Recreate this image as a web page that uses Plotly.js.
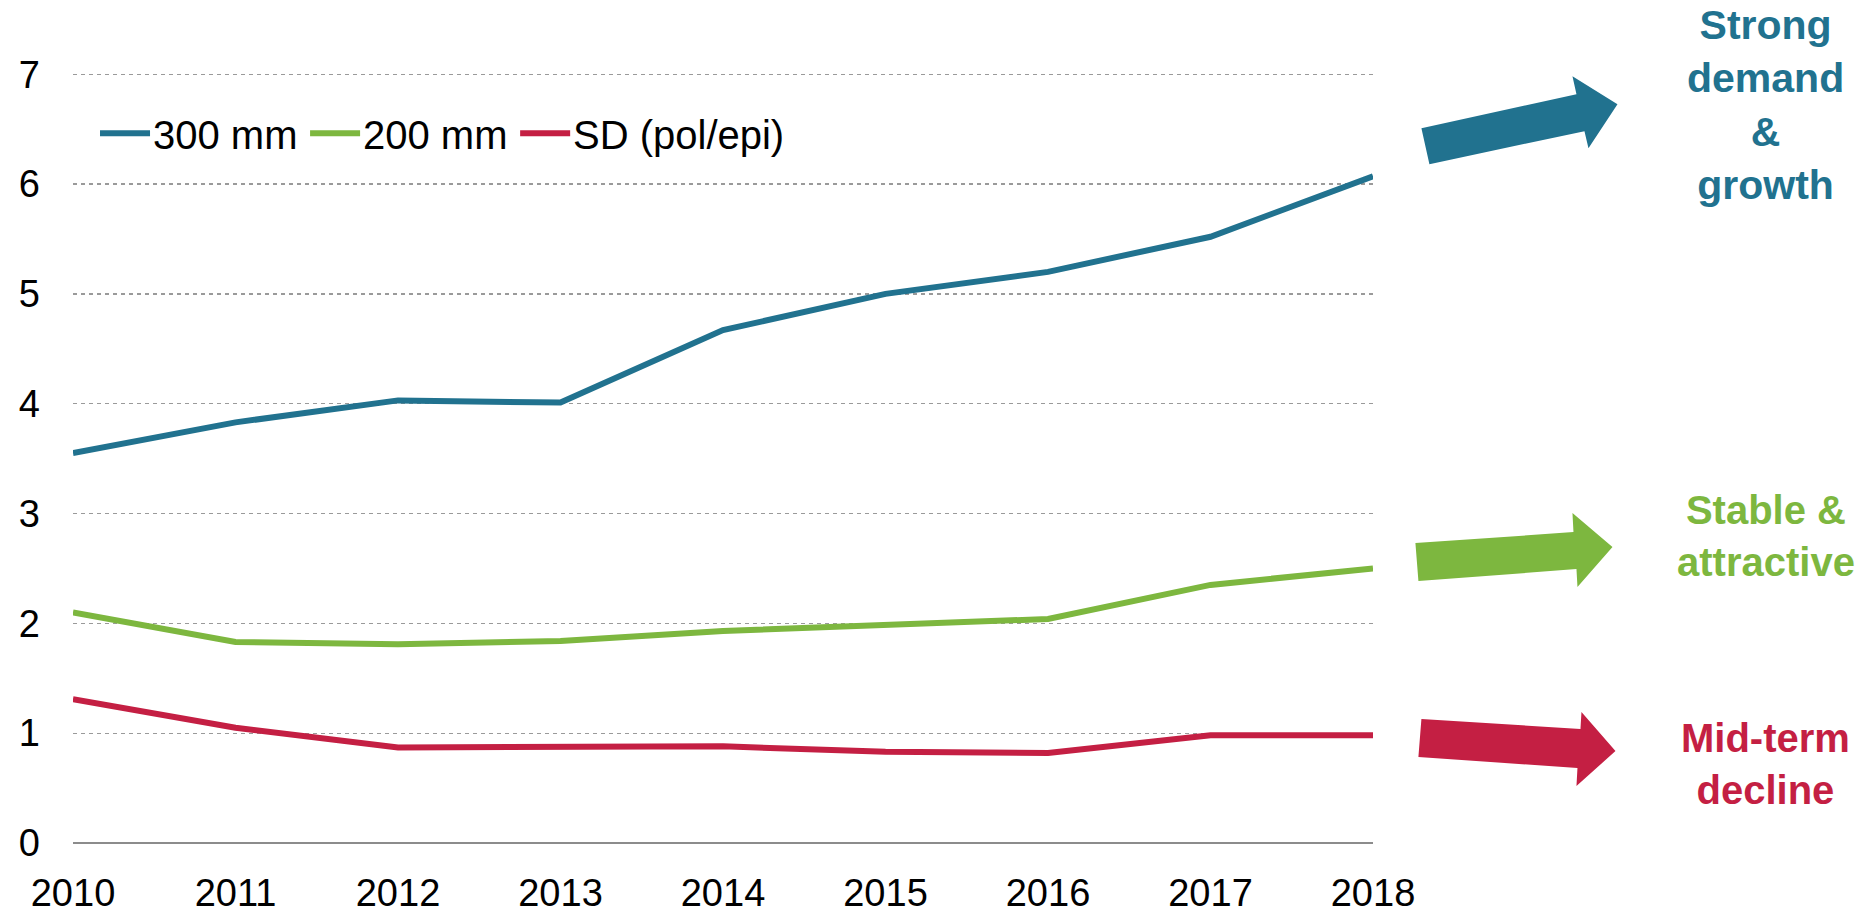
<!DOCTYPE html>
<html>
<head>
<meta charset="utf-8">
<script src="https://cdn.plot.ly/plotly-3.0.1.min.js"></script>
<style>
  html, body { margin: 0; padding: 0; background: #fff; }
  #chart { width: 1876px; height: 914px; }
</style>
</head>
<body>
<div id="chart"></div>
<script>
let years = [2010, 2011, 2012, 2013, 2014, 2015, 2016, 2017, 2018];
let mm300 = [3.55, 3.83, 4.03, 4.01, 4.67, 5.00, 5.20, 5.52, 6.07];
let mm200 = [2.10, 1.83, 1.81, 1.84, 1.93, 1.99, 2.04, 2.35, 2.50];
let sdPolEpi = [1.31, 1.05, 0.87, 0.88, 0.88, 0.83, 0.82, 0.98, 0.98];
let seriesNames = ['300 mm', '200 mm', 'SD (pol/epi)'];
let seriesColors = ['#21728F', '#7DB73F', '#C41F43'];

let font = 'Liberation Sans, Arial, sans-serif';

// plot area in pixels, used to place the arrows, legend and labels
// (range tops out a hair above 7 so the 7 gridline is kept)
let yMax = 7.02;
let plotL = 73, plotR = 1372.6, plotB = 843;
let plotT = plotB - (plotB - 74) * yMax / 7;
let px = x => (x - plotL) / (plotR - plotL);
let py = y => (plotB - y) / (plotB - plotT);
let arrow = pts => 'M' + pts.map(p => px(p[0]) + ',' + py(p[1])).join(' L') + ' Z';

let traces = [mm300, mm200, sdPolEpi].map((vals, i) => ({
  x: years, y: vals, name: seriesNames[i],
  type: 'scatter', mode: 'lines',
  line: {color: seriesColors[i], width: 6},
  showlegend: false
}));

// legend drawn by hand so the samples are as long as in the original
let legendX = [100, 310, 520];
let legendY = 133;
let legendShapes = seriesNames.map((n, i) => ({
  type: 'line', xref: 'paper', yref: 'paper',
  x0: px(legendX[i]), x1: px(legendX[i] + 50), y0: py(legendY), y1: py(legendY),
  line: {color: seriesColors[i], width: 6}
}));
let legendText = seriesNames.map((n, i) => ({
  xref: 'paper', yref: 'paper', x: px(legendX[i] + 51), y: py(legendY + 2),
  xanchor: 'left', yanchor: 'middle', showarrow: false, text: n,
  font: {family: font, size: 40, color: '#000'}
}));

let layout = {
  width: 1876,
  height: 914,
  margin: {l: plotL, r: 1876 - plotR, t: plotT, b: 914 - plotB, pad: 0},
  paper_bgcolor: '#fff',
  plot_bgcolor: '#fff',
  font: {family: font, color: '#000', size: 38},
  showlegend: false,
  xaxis: {
    range: [2010, 2018],
    tickvals: years,
    showgrid: false,
    zeroline: false,
    showline: false,
    ticks: '',
    ticklabelstandoff: 24,
    tickfont: {size: 38}
  },
  yaxis: {
    range: [0, yMax],
    tickvals: [0, 1, 2, 3, 4, 5, 6, 7],
    showgrid: true,
    gridcolor: '#9a9a9a',
    gridwidth: 1.3,
    griddash: '4px,4px',
    zeroline: true,
    zerolinecolor: '#8c8c8c',
    zerolinewidth: 2,
    showline: false,
    ticks: '',
    ticklabelstandoff: 32,
    tickfont: {size: 38}
  },
  shapes: legendShapes.concat([
    {type: 'path', xref: 'paper', yref: 'paper', fillcolor: seriesColors[0], line: {width: 0},
     path: arrow([[1421, 128], [1576, 94], [1572, 76], [1617, 104], [1588, 148], [1584, 131], [1429, 164]])},
    {type: 'path', xref: 'paper', yref: 'paper', fillcolor: seriesColors[1], line: {width: 0},
     path: arrow([[1415, 543], [1573, 532], [1572, 513], [1612, 547], [1577, 587], [1576, 569], [1418, 581]])},
    {type: 'path', xref: 'paper', yref: 'paper', fillcolor: seriesColors[2], line: {width: 0},
     path: arrow([[1421, 719], [1580, 729], [1581, 712], [1615, 751], [1576, 786], [1577, 768], [1418, 757]])}
  ]),
  annotations: legendText.concat([
    {xref: 'paper', yref: 'paper', x: px(1765), y: py(105), xanchor: 'center', yanchor: 'middle',
     showarrow: false, text: 'Strong<br>demand<br>&amp;<br>growth',
     font: {family: font, size: 41, color: seriesColors[0], weight: 'bold'}},
    {xref: 'paper', yref: 'paper', x: px(1765), y: py(536), xanchor: 'center', yanchor: 'middle',
     showarrow: false, text: 'Stable &amp;<br>attractive',
     font: {family: font, size: 40, color: seriesColors[1], weight: 'bold'}},
    {xref: 'paper', yref: 'paper', x: px(1765), y: py(764), xanchor: 'center', yanchor: 'middle',
     showarrow: false, text: 'Mid-term<br>decline',
     font: {family: font, size: 40, color: seriesColors[2], weight: 'bold'}}
  ])
};

Plotly.newPlot('chart', traces, layout, {displayModeBar: false, staticPlot: true});
</script>
</body>
</html>
